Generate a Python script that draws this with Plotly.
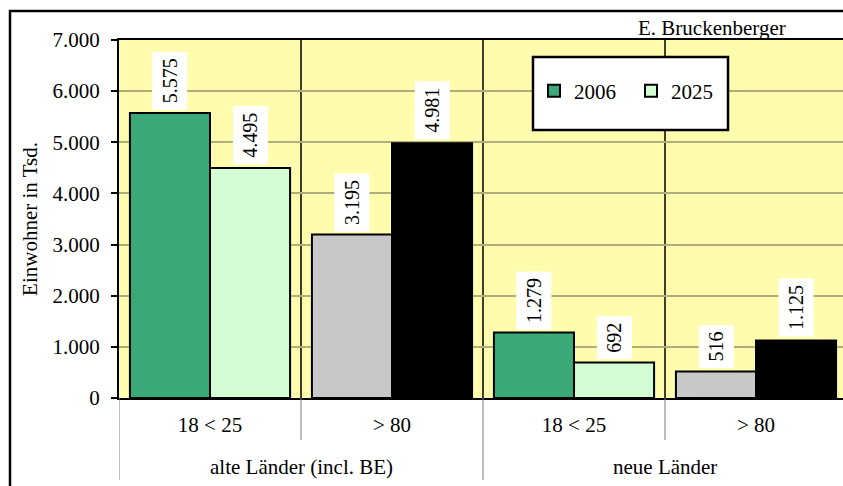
import plotly.graph_objects as go

# ---- data ----
regions = ["alte Länder (incl. BE)", "neue Länder"]
region_of_bar = [0, 0, 1, 1]
age_groups = ["18 < 25", "> 80", "18 < 25", "> 80"]
years = ["2006", "2025"]
values_2006 = [5575, 3195, 1279, 516]
values_2025 = [4495, 4981, 692, 1125]
y_tick_values = [0, 1000, 2000, 3000, 4000, 5000, 6000, 7000]
source_note = "E. Bruckenberger"
y_title = "Einwohner in Tsd."

# ---- styles ----
colors_2006 = ["#3BA878", "#C8C8C8", "#3BA878", "#C8C8C8"]
colors_2025 = ["#D4FCD4", "#000000", "#D4FCD4", "#000000"]
FONT = "Liberation Serif"
FS = 21
BARGAP = 0.12
X_RANGE = [-0.5, 3.478]
PLOT_H = 358.0

xpos = list(range(len(age_groups)))

fig = go.Figure()
for name, vals, cols in [(years[0], values_2006, colors_2006), (years[1], values_2025, colors_2025)]:
    fig.add_trace(go.Bar(
        x=xpos, y=vals, name=name,
        marker=dict(color=cols, line=dict(color="black", width=2)),
        hoverinfo="y",
    ))

half = (1 - BARGAP) / 4
annotations = []
for i in xpos:
    for vals, off in [(values_2006, -half), (values_2025, half)]:
        annotations.append(dict(
            x=i + off, y=vals[i], xref="x", yref="y",
            text=f"{vals[i]:,}".replace(",", "."),
            textangle=-90, showarrow=False, yanchor="bottom", xanchor="center",
            yshift=3, bgcolor="white", borderpad=6,
            font=dict(family=FONT, size=20, color="black"),
        ))
# group (region) labels
for g, reg in enumerate(regions):
    members = [i for i in xpos if region_of_bar[i] == g]
    annotations.append(dict(
        x=sum(members) / len(members), y=-69 / PLOT_H, xref="x", yref="paper",
        text=reg, showarrow=False, xanchor="center", yanchor="middle",
        font=dict(family=FONT, size=FS, color="black"),
    ))
annotations.append(dict(
    x=(712 - 119) / 724, y=(398 - 28) / PLOT_H, xref="paper", yref="paper",
    text=source_note, showarrow=False, xanchor="center", yanchor="middle",
    font=dict(family=FONT, size=FS, color="black"),
))

shapes = []
# cell boundaries: black lines inside the plot, grey separators below the axis
boundaries = [i - 0.5 for i in xpos]
for b in boundaries:
    if b > X_RANGE[0]:
        shapes.append(dict(type="line", xref="x", yref="paper", x0=b, x1=b, y0=0, y1=1,
                           line=dict(color="black", width=1.5), layer="below"))
    is_group_edge = (b == -0.5) or (region_of_bar[int(b + 0.5)] != region_of_bar[int(b - 0.5)])
    depth = 82 if is_group_edge else 42
    shapes.append(dict(type="line", xref="x", yref="paper", x0=b, x1=b, y0=0, y1=-depth / PLOT_H,
                       line=dict(color="#808080", width=1)))
# legend box
shapes.append(dict(type="rect", xref="paper", yref="paper",
                   x0=(533 - 119) / 724, x1=(728 - 119) / 724,
                   y0=(398 - 130) / PLOT_H, y1=(398 - 57) / PLOT_H,
                   fillcolor="white", line=dict(color="black", width=2.5), layer="above"))
# outer frame
shapes.append(dict(type="rect", xref="paper", yref="paper",
                   x0=(10 - 119) / 724, x1=1.05, y0=-0.3, y1=(398 - 11) / PLOT_H,
                   fillcolor="rgba(0,0,0,0)", line=dict(color="black", width=2.5), layer="above"))

fig.update_layout(
    width=843, height=486, autosize=False,
    margin=dict(l=119, r=0, t=40, b=88, autoexpand=False),
    paper_bgcolor="white", plot_bgcolor="#FFFCAE",
    separators=",.",
    barmode="group", bargap=BARGAP, bargroupgap=0,
    font=dict(family=FONT, size=FS, color="black"),
    showlegend=True,
    legend=dict(orientation="h", x=(534 - 119) / 724, xanchor="left",
                y=(398 - 91) / PLOT_H, yanchor="middle",
                bgcolor="rgba(0,0,0,0)", borderwidth=0,
                font=dict(family=FONT, size=FS, color="black"),
                entrywidth=52, traceorder="normal"),
    xaxis=dict(
        range=X_RANGE, tickvals=xpos, ticktext=age_groups,
        showline=True, linecolor="black", linewidth=2, mirror=True,
        showgrid=False, zeroline=False, ticks="", ticklabelstandoff=7,
        tickfont=dict(family=FONT, size=FS, color="black"), automargin=False,
    ),
    yaxis=dict(
        range=[0, 7000], tickvals=y_tick_values, tickformat=",d",
        showline=True, linecolor="black", linewidth=2,
        showgrid=True, gridcolor="#B2AE7C", gridwidth=1.5,
        ticks="outside", ticklen=6, tickcolor="black", tickwidth=1.5,
        ticklabelstandoff=7, automargin=False,
        tickfont=dict(family=FONT, size=FS, color="black"),
        title=dict(text=y_title, standoff=9, font=dict(family=FONT, size=FS, color="black")),
        zeroline=False,
    ),
    annotations=annotations,
    shapes=shapes,
)

# remove the browser's default 8px page margin so the 843x486 figure fills the window
fig.write_html("out.html", config={"displayModeBar": False},
               post_script="document.body.style.margin='0';document.body.style.overflow='hidden';")
